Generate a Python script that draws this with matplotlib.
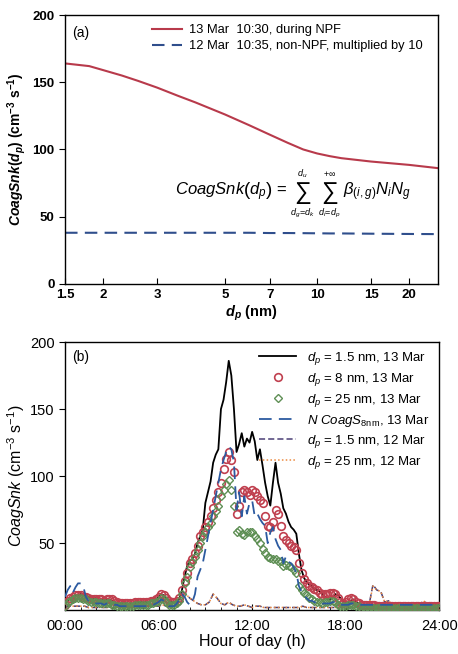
import numpy as np
import matplotlib
matplotlib.use("Agg")
import matplotlib.pyplot as plt
from matplotlib.ticker import NullLocator, FixedLocator

plt.rcParams['font.family'] = ['Liberation Sans', 'DejaVu Sans']
plt.rcParams['mathtext.fontset'] = 'custom'
plt.rcParams['mathtext.rm'] = 'Liberation Sans'
plt.rcParams['mathtext.it'] = 'Liberation Sans:italic'
plt.rcParams['mathtext.bf'] = 'Liberation Sans:bold'
plt.rcParams['mathtext.bfit'] = 'Liberation Sans:italic:bold'

# ---------------- Panel (a) data ----------------
dp_nm = [1.5, 1.8, 2.0, 2.3, 2.6, 3.0, 3.5, 4.0, 5.0, 6.0, 7.0, 8.0, 9.0, 10.0, 11.0, 12.0, 15.0, 20.0, 25.0]
snk_13mar_npf = [164, 162, 159, 155, 151, 146, 140, 135, 126, 118, 111, 105, 100, 97, 95, 93.5, 91, 88.5, 86]
snk_12mar_x10 = [38, 38, 38, 38, 38, 38, 38, 38, 38, 38, 37.8, 37.8, 37.7, 37.6, 37.5, 37.5, 37.3, 37.1, 37]
xticks_a = [1.5, 2, 3, 5, 7, 10, 15, 20]
xticklabels_a = ['1.5', '2', '3', '5', '7', '10', '15', '20']

# ---------------- Panel (b) data ----------------
# 13 Mar: 10-min resolution, 00:00-24:00 (6 values per hour)
hours_13 = np.arange(0, 24.001, 1 / 6)
snk15_13mar = [5, 7, 9, 10, 11, 11,  12, 11, 11, 10, 9, 9,  9, 8, 8, 7, 8, 8,  7, 6, 5, 5, 5, 5,
               4, 5, 5, 5, 6, 6,  6, 6, 6, 7, 7, 8,  10, 12, 11, 9, 7, 6,  6, 7, 9, 15, 25, 33,
               37, 38, 42, 50, 55, 60,  80, 88, 96, 110, 116, 120,  150, 157, 170, 186, 175, 150,
               118, 124, 132, 122, 128, 125,  133, 126, 112, 120, 108, 95,  85, 78, 95, 110, 95, 87,
               76, 72, 66, 62, 60, 57,  42, 30, 24, 21, 19, 18,  16, 15, 14, 12, 10, 8,
               8, 10, 12, 11, 9, 7,  5, 6, 7, 8, 6, 5,  4, 4, 4, 4, 4, 4,  4, 4, 4, 3, 3, 3,
               4, 4, 4, 3, 3, 3,  4, 4, 4, 4, 4, 4,  4, 4, 5, 5, 4, 4,  4]
snk8_13mar = [4, 7, 9, 10, 11, 11,  11, 10, 10, 9, 8, 8,  8, 8, 8, 7, 8, 8,  8, 7, 6, 5, 5, 5,
              5, 5, 5, 6, 6, 6,  6, 6, 6, 7, 7, 8,  10, 12, 11, 9, 7, 6,  6, 7, 9, 15, 22, 28,
              35, 38, 43, 48, 55, 58,  62, 66, 70, 76, 82, 88,  95, 105, 113, 118, 112, 103,
              72, 78, 88, 90, 88, 86,  90, 88, 85, 82, 80, 70,  63, 62, 66, 75, 72, 63,
              55, 52, 50, 48, 47, 45,  35, 28, 23, 20, 18, 17,  16, 15, 13, 11, 12, 12,
              13, 13, 12, 9, 6, 5,  6, 8, 9, 8, 6, 5,  4, 4, 4, 4, 4, 4,  3, 3, 3, 3, 3, 3,
              3, 3, 3, 3, 3, 3,  3, 3, 3, 3, 3, 3,  3, 3, 3, 3, 3, 3,  3]
snk25_13mar = [3, 6, 7, 8, 9, 9,  9, 8, 8, 7, 6, 6,  6, 5, 5, 5, 5, 5,  4, 4, 3, 3, 3, 3,
               3, 3, 3, 4, 4, 4,  4, 4, 4, 5, 5, 6,  7, 9, 8, 6, 4, 4,  4, 5, 7, 12, 20, 25,
               32, 36, 40, 45, 50, 55,  58, 62, 65, 70, 74, 78,  85, 90, 94, 97, 90, 78,
               58, 60, 57, 56, 58, 58,  58, 55, 53, 50, 46, 43,  40, 39, 38, 38, 37, 37,
               33, 34, 33, 32, 30, 28,  18, 15, 13, 11, 9, 8,  7, 6, 6, 5, 6, 6,
               7, 7, 6, 4, 3, 3,  3, 4, 4, 4, 3, 3,  2, 2, 2, 2, 2, 2,  2, 2, 2, 2, 2, 2,
               2, 2, 2, 2, 2, 2,  2, 2, 2, 2, 2, 2,  2, 2, 2, 2, 2, 2,  2]
ncoags8_13mar = [10, 15, 18, 13, 17, 20,  20, 18, 10, 7, 6, 5,  5, 5, 5, 4, 5, 5,  5, 4, 4, 3, 3, 3,
                 3, 3, 3, 3, 3, 3,  3, 3, 3, 4, 4, 5,  6, 8, 7, 5, 3, 3,  3, 5, 8, 12, 10, 6,
                 4, 6, 12, 25, 30, 35,  45, 55, 65, 75, 85, 95,  105, 112, 118, 122, 120, 110,
                 75, 88, 70, 85, 72, 80,  82, 70, 72, 68, 65, 63,  50, 58, 62, 53, 48, 45,
                 35, 40, 36, 35, 32, 28,  18, 14, 11, 9, 7, 7,  6, 5, 6, 5, 5, 5,
                 5, 6, 6, 5, 4, 4,  4, 4, 5, 5, 4, 4,  4, 4, 4, 4, 4, 4,  4, 4, 4, 4, 4, 4,
                 4, 4, 4, 4, 4, 4,  4, 4, 4, 4, 4, 4,  4, 4, 4, 4, 4, 4,  4]
# 12 Mar: 15-min resolution, 00:00-24:00 (4 values per hour)
hours_12 = np.arange(0, 24.001, 0.25)
snk15_12mar = [2, 3, 3, 3, 3, 3, 2, 2, 2, 2, 2, 2, 2, 2, 2, 2,
               2, 2, 3, 2, 2, 3, 4, 3, 3, 4, 3, 2, 3, 6, 14, 12,
               9, 7, 5, 4, 4, 6, 12, 9, 5, 4, 6, 4,
               3, 3, 4, 3, 2, 3, 3, 2, 2, 2, 2, 2,
               2, 2, 2, 2, 2, 3, 2, 2, 2, 2, 2, 2, 2, 2, 2, 2,
               2, 2, 2, 2, 2, 3, 4, 19, 15, 14, 6, 7, 4, 3, 3, 3,
               3, 3, 3, 4, 7, 4, 3, 3, 3]
snk25_12mar = [2, 3, 3, 3, 3, 3, 2, 2, 2, 2, 2, 2, 2, 2, 2, 2,
               2, 2, 3, 2, 2, 3, 4, 3, 3, 4, 3, 2, 3, 6, 13, 12,
               9, 7, 5, 4, 4, 6, 12, 9, 5, 4, 6, 4,
               3, 3, 4, 3, 2, 3, 3, 2, 2, 2, 2, 2,
               2, 2, 2, 2, 2, 3, 2, 2, 2, 2, 2, 2, 2, 2, 2, 2,
               2, 2, 2, 2, 2, 3, 4, 18, 15, 14, 6, 7, 4, 3, 3, 3,
               3, 3, 3, 4, 7, 4, 3, 3, 3]
xticks_b = [0, 6, 12, 18, 24]
xticklabels_b = ['00:00', '06:00', '12:00', '18:00', '24:00']

# ---------------- Figure ----------------
fig = plt.figure(figsize=(4.58, 6.54), dpi=100)
ax1 = fig.add_axes([0.142, 0.566, 0.814, 0.411])
ax2 = fig.add_axes([0.142, 0.067, 0.817, 0.410])

red = '#b83a4b'
navy = '#2f4e8c'

# Panel (a)
ax1.plot(dp_nm, snk_13mar_npf, color=red, lw=1.5, label='13 Mar  10:30, during NPF')
ax1.plot(dp_nm, snk_12mar_x10, color=navy, lw=1.5, ls=(0, (6, 3.5)),
         label='12 Mar  10:35, non-NPF, multiplied by 10')
ax1.set_xscale('log')
ax1.set_xlim(1.5, 24.8)
ax1.set_ylim(0, 200)
ax1.xaxis.set_major_locator(FixedLocator(xticks_a))
ax1.xaxis.set_minor_locator(NullLocator())
ax1.set_xticklabels(xticklabels_a)
ax1.set_yticks([0, 50, 100, 150, 200])
for lab in ax1.get_xticklabels() + ax1.get_yticklabels():
    lab.set_fontweight('bold')
ax1.tick_params(axis='x', direction='in', length=4, labelsize=9.5, pad=4)
ax1.tick_params(axis='y', direction='out', length=4, labelsize=9.5)
ax1.set_xlabel(r'$\mathbfit{d}_{\mathbfit{p}}$ (nm)', fontsize=10.5, fontweight='bold', labelpad=2)
ax1.set_ylabel(r'$\mathbfit{CoagSnk}\mathbf{(}\mathbfit{d}_{\mathbfit{p}}\mathbf{)}$ (cm$^{\mathbf{-3}}$ s$^{\mathbf{-1}}$)',
               fontsize=10, fontweight='bold', labelpad=3)
ax1.text(0.02, 0.96, '(a)', transform=ax1.transAxes, fontsize=10, va='top', ha='left')
ax1.legend(loc='upper right', frameon=False, fontsize=9.3, handlelength=2.3,
           borderaxespad=0.3, labelspacing=0.3, handletextpad=0.6, bbox_to_anchor=(0.985, 1.0))

# Formula, laid out piece by piece so that the sums appear in display size
yc = 0.342
ax1.text(0.597, yc, r'$\mathit{CoagSnk}\left(d_p\right)$ =', transform=ax1.transAxes,
         fontsize=12, ha='right', va='center')
for xs, up, lo in [(0.637, r'$d_u$', r'$d_g\!=\!d_k$'), (0.710, r'$+\infty$', r'$d_i\!=\!d_p$')]:
    ax1.text(xs, yc - 0.004, '\u2211', transform=ax1.transAxes, fontsize=17, ha='center', va='center',
             family=['Liberation Sans', 'DejaVu Sans'])
    ax1.text(xs, yc + 0.068, up, transform=ax1.transAxes, fontsize=6.5, ha='center', va='center')
    ax1.text(xs, yc - 0.080, lo, transform=ax1.transAxes, fontsize=6.5, ha='center', va='center')
ax1.text(0.745, yc, r'$\beta_{(i,g)}N_iN_g$', transform=ax1.transAxes,
         fontsize=12, ha='left', va='center')
for s in ax1.spines.values():
    s.set_linewidth(1.0)

# Panel (b)
ax2.plot(hours_12, snk15_12mar, color='#4a3f75', lw=1.1, ls=(0, (4, 2)), zorder=2,
         label=r'$d_p$ = 1.5 nm, 12 Mar')
ax2.plot(hours_12, snk25_12mar, color='#ec8a40', lw=1.1, ls=(0, (1, 1.5)), zorder=2.1,
         label=r'$d_p$ = 25 nm, 12 Mar')
ax2.plot(hours_13, snk15_13mar, color='black', lw=1.3, zorder=3, label=r'$d_p$ = 1.5 nm, 13 Mar')
ax2.plot(hours_13, snk8_13mar, ls='none', marker='o', ms=5.5, mfc='none', mec='#c0404f', mew=1.2,
         zorder=4, label=r'$d_p$ = 8 nm, 13 Mar')
ax2.plot(hours_13, snk25_13mar, ls='none', marker='D', ms=4.0, mfc='none', mec='#5f8f55', mew=1.0,
         zorder=5, label=r'$d_p$ = 25 nm, 13 Mar')
ax2.plot(hours_13, ncoags8_13mar, color='#2c5aa0', lw=1.3, ls=(0, (7, 4)), zorder=6,
         label=r'$N\ CoagS_{\mathrm{8nm}}$, 13 Mar')
ax2.set_xlim(0, 24)
ax2.set_ylim(0, 200)
ax2.set_xticks(xticks_b)
ax2.set_xticklabels(xticklabels_b)
ax2.set_xticks(np.arange(0, 24.01, 1), minor=True)
ax2.set_yticks([50, 100, 150, 200])
ax2.tick_params(axis='x', which='major', direction='in', length=4, labelsize=10.5, pad=6)
ax2.tick_params(axis='x', which='minor', direction='in', length=2.5)
ax2.tick_params(axis='y', direction='out', length=4, labelsize=10.5)
ax2.set_xlabel('Hour of day (h)', fontsize=11.5, labelpad=1)
ax2.set_ylabel(r'$\mathit{CoagSnk}$ (cm$^{-3}$ s$^{-1}$)', fontsize=11.5, labelpad=2)
ax2.text(0.02, 0.97, '(b)', transform=ax2.transAxes, fontsize=10, va='top', ha='left')
h, l = ax2.get_legend_handles_labels()
order = [2, 3, 4, 5, 0, 1]
ax2.legend([h[i] for i in order], [l[i] for i in order], loc='upper right', frameon=False,
           fontsize=9.5, handlelength=2.8, labelspacing=0.3, handletextpad=0.8,
           borderaxespad=0.2, bbox_to_anchor=(0.995, 1.0))
for s in ax2.spines.values():
    s.set_linewidth(1.0)

fig.savefig('out.png', dpi=100)
